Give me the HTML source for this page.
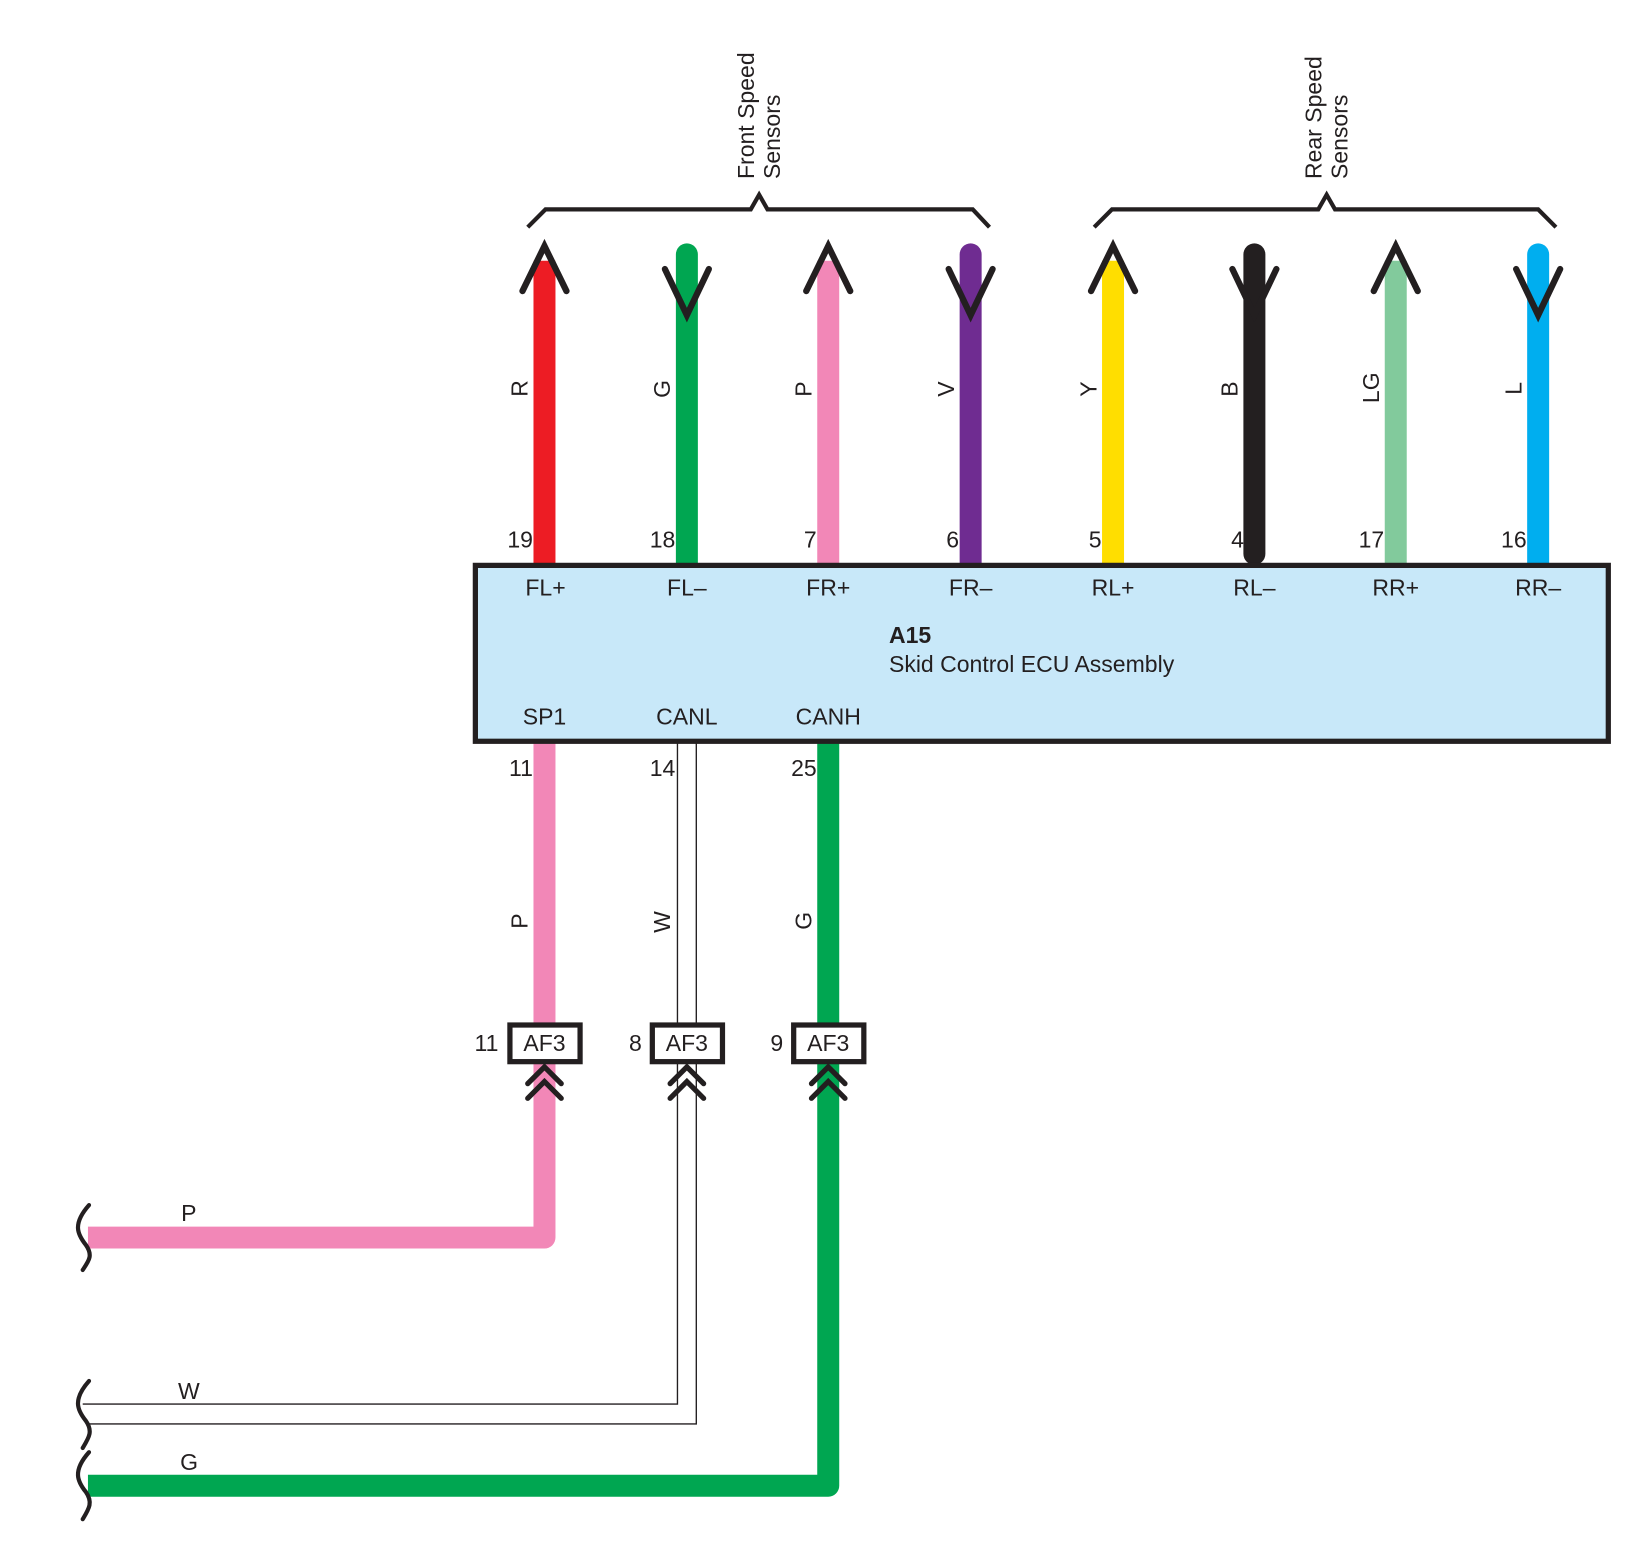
<!DOCTYPE html>
<html><head><meta charset="utf-8"><style>
html,body{margin:0;padding:0;background:#fff}
svg{display:block}
text{font-family:"Liberation Sans",sans-serif;font-size:22px;fill:#231f20}
</style></head><body>
<svg width="1640" height="1560" viewBox="0 0 1560 1484" preserveAspectRatio="none" xmlns="http://www.w3.org/2000/svg">
<g transform="translate(-1,-1) scale(0.996)">
<g fill="none" stroke="#231f20" stroke-width="4" stroke-linejoin="miter">
<path d="M505 218 L522 201 L718 201 L726 187 L734 201 L930 201 L946 218"/>
<path d="M1046 218 L1063 201 L1260 201 L1268 187 L1276 201 L1470 201 L1487 218"/>
</g>
<g font-size="22">
<text transform="translate(721,172) rotate(-90)">Front Speed</text>
<text transform="translate(746,172) rotate(-90)">Sensors</text>
<text transform="translate(1263,172) rotate(-90)">Rear Speed</text>
<text transform="translate(1288,172) rotate(-90)">Sensors</text>
</g>
<g stroke-width="21" stroke-linecap="butt">
<line x1="521" y1="250" x2="521" y2="540" stroke="#ed1c24"/>
<line x1="657" y1="244" x2="657" y2="540" stroke="#00a651" stroke-linecap="round"/>
<line x1="792" y1="250" x2="792" y2="540" stroke="#f287b7"/>
<line x1="928" y1="244" x2="928" y2="540" stroke="#6f2c91" stroke-linecap="round"/>
<line x1="1064" y1="250" x2="1064" y2="540" stroke="#ffde00"/>
<line x1="1199" y1="244" x2="1199" y2="530" stroke="#231f20" stroke-linecap="round"/>
<line x1="1334" y1="250" x2="1334" y2="540" stroke="#82ca9c"/>
<line x1="1470" y1="244" x2="1470" y2="540" stroke="#00aeef" stroke-linecap="round"/>
</g>
<g fill="none" stroke="#231f20" stroke-width="6" stroke-linecap="round" stroke-linejoin="miter">
<path d="M500 279 L521 236 L542 279"/>
<path d="M771 279 L792 236 L813 279"/>
<path d="M1043 279 L1064 236 L1085 279"/>
<path d="M1313 279 L1334 236 L1355 279"/>
<path d="M636 258 L657 302 L678 258"/>
<path d="M907 258 L928 302 L949 258"/>
<path d="M1178 258 L1199 302 L1220 258"/>
<path d="M1449 258 L1470 302 L1491 258"/>
</g>
<text transform="translate(505,380) rotate(-90)">R</text>
<text transform="translate(641,381) rotate(-90)">G</text>
<text transform="translate(776,380) rotate(-90)">P</text>
<text transform="translate(912,380) rotate(-90)">V</text>
<text transform="translate(1048,380) rotate(-90)">Y</text>
<text transform="translate(1183,380) rotate(-90)">B</text>
<text transform="translate(1318,386) rotate(-90)">LG</text>
<text transform="translate(1454,378) rotate(-90)">L</text>
<g text-anchor="end">
<text x="510" y="524">19</text><text x="646" y="524">18</text><text x="781" y="524">7</text>
<text x="917" y="524">6</text><text x="1053" y="524">5</text><text x="1189" y="524">4</text>
<text x="1323" y="524">17</text><text x="1459" y="524">16</text>
</g>
<path d="M521 710 L521 1183 L85 1183" fill="none" stroke="#f287b7" stroke-width="21" stroke-linejoin="round"/>
<path d="M792 710 L792 1420 L85 1420" fill="none" stroke="#00a651" stroke-width="21" stroke-linejoin="round"/>
<path d="M648 710 L648 1342 L80 1342 M666 710 L666 1361 L84 1361" fill="none" stroke="#231f20" stroke-width="1.3"/>
<rect x="455" y="541" width="1082" height="168" fill="#c8e8f9" stroke="#231f20" stroke-width="5"/>
<g text-anchor="middle">
<text x="522" y="570">FL+</text><text x="657" y="570">FL–</text><text x="792" y="570">FR+</text>
<text x="928" y="570">FR–</text><text x="1064" y="570">RL+</text><text x="1199" y="570">RL–</text>
<text x="1334" y="570">RR+</text><text x="1470" y="570">RR–</text>
<text x="521" y="693">SP1</text><text x="657" y="693">CANL</text><text x="792" y="693">CANH</text>
</g>
<text x="850" y="615" font-weight="bold">A15</text>
<text x="850" y="643">Skid Control ECU Assembly</text>
<g text-anchor="end">
<text x="510" y="742">11</text><text x="646" y="742">14</text><text x="781" y="742">25</text>
<text x="477" y="1005">11</text><text x="614" y="1005">8</text><text x="749" y="1005">9</text>
</g>
<text transform="translate(505,888) rotate(-90)">P</text>
<text transform="translate(641,892) rotate(-90)">W</text>
<text transform="translate(776,889) rotate(-90)">G</text>
<rect x="488" y="980" width="67" height="35" fill="#fff" stroke="#231f20" stroke-width="5"/>
<rect x="624" y="980" width="67" height="35" fill="#fff" stroke="#231f20" stroke-width="5"/>
<rect x="759" y="980" width="67" height="35" fill="#fff" stroke="#231f20" stroke-width="5"/>
<g text-anchor="middle"><text x="521" y="1005">AF3</text><text x="657" y="1005">AF3</text><text x="792" y="1005">AF3</text></g>
<g fill="none" stroke="#231f20" stroke-width="5" stroke-linecap="round">
<path d="M505 1036 L521 1020 L537 1036 M505 1050 L521 1034 L537 1050"/>
<path d="M641 1036 L657 1020 L673 1036 M641 1050 L657 1034 L673 1050"/>
<path d="M776 1036 L792 1020 L808 1036 M776 1050 L792 1034 L808 1050"/>
</g>
<g fill="none" stroke="#231f20" stroke-width="4" stroke-linecap="round">
<path d="M86 1152 C70 1170 75 1180 83 1190 C90 1200 86 1205 80 1214"/>
<path d="M86 1320 C70 1338 75 1348 83 1358 C90 1368 86 1374 80 1384"/>
<path d="M86 1388 C70 1406 75 1416 83 1426 C90 1436 86 1442 80 1452"/>
</g>
<text x="174" y="1167">P</text>
<text x="171" y="1337">W</text>
<text x="173" y="1405">G</text>
</g>
</svg>
</body></html>
